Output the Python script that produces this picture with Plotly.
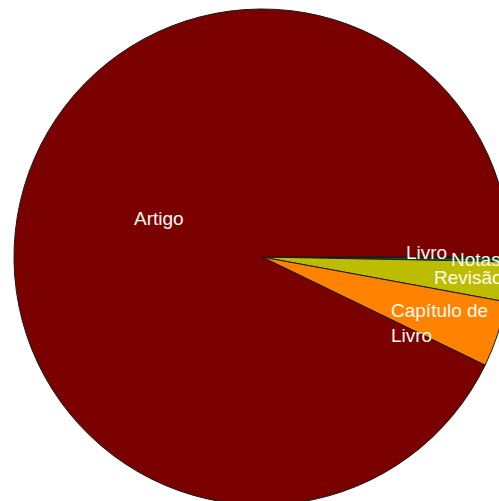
import plotly.graph_objects as go

# Publication types and their counts
categories = ["Livro", "Notas", "Revisão", "Capítulo de Livro", "Artigo"]
counts = [1, 2, 26, 43, 930]
slice_colors = ["#1f3a1f", "#0a7a1a", "#bcbc00", "#ff8200", "#7b0000"]

# Canvas is a little larger than the visible window so the pie runs off the right/bottom edges
W, H = 520, 510
cx, cy, R = 262, 257, 248  # pixel centre and radius of the pie


def px_x(x):
    return x / W


def px_y(y):
    return 1 - y / H


fig = go.Figure(
    go.Pie(
        labels=categories,
        values=counts,
        sort=False,
        direction="clockwise",
        rotation=90,
        textinfo="none",
        hoverinfo="label+value+percent",
        marker=dict(colors=slice_colors, line=dict(color="#1a1a1a", width=1)),
        domain=dict(x=[px_x(cx - R), px_x(cx + R)], y=[px_y(cy + R), px_y(cy - R)]),
    )
)

# In-slice text labels (left edge x, vertical centre y, in pixels)
label_text = ["Artigo", "Livro", "Notas", "Revisão", "Capítulo de<br>Livro"]
label_pos = [(132, 218), (404, 252), (449, 259), (432, 277), (389, 323)]

font = dict(family="Liberation Sans, Arial, sans-serif", size=19, color="#fffaf0")
for text, (x, y) in zip(label_text, label_pos):
    fig.add_annotation(
        text=text, x=px_x(x), y=px_y(y), xref="paper", yref="paper",
        xanchor="left", yanchor="middle", align="left", showarrow=False, font=font,
    )

fig.update_layout(
    width=W, height=H, autosize=False,
    margin=dict(l=0, r=0, t=0, b=0),
    paper_bgcolor="white", plot_bgcolor="white",
    showlegend=False,
)

fig.write_html(
    "out.html",
    post_script="document.body.style.margin='0';document.body.style.overflow='hidden';",
)
